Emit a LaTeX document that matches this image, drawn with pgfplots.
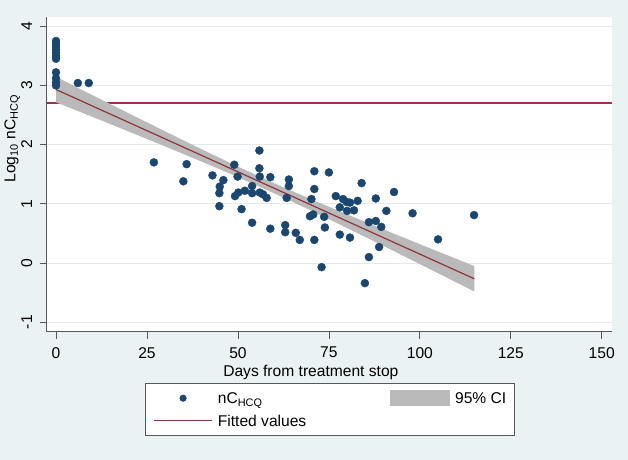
\documentclass[border=0pt]{standalone}
\usepackage{fontspec}
\setmainfont{Liberation Sans}
\usepackage{pgfplots}
\pgfplotsset{compat=1.18}

\definecolor{bgcol}{RGB}{234,242,243}
\definecolor{dotcol}{RGB}{26,71,111}
\definecolor{fitcol}{RGB}{144,53,59}
\definecolor{refcol}{RGB}{162,46,84}
\definecolor{cicol}{RGB}{186,186,186}
\definecolor{gridcol}{RGB}{226,234,238}

\newcommand{\fs}{\fontsize{15.6bp}{18.5bp}\selectfont}

\begin{document}
\begin{tikzpicture}
\fill[bgcol] (0bp,0bp) rectangle (628bp,460bp);
\useasboundingbox (0bp,0bp) rectangle (628bp,460bp);
\begin{axis}[
  at={(46.7bp,128.3bp)}, anchor=south west,
  scale only axis, width=565.6bp, height=314.4bp,
  xmin=-2.56, xmax=152.9, ymin=-1.16, ymax=4.15,
  axis x line*=bottom, axis y line*=left,
  axis line style={black!65, line width=0.7bp},
  axis background/.style={fill=white},
  xtick={0,25,...,150}, ytick={-1,0,...,4},
  tick align=outside, major tick length=7bp,
  tick style={black!65, line width=0.7bp},
  ymajorgrids, major grid style={gridcol, line width=0.8bp},
  ticklabel style={font=\fs},
  /pgf/number format/assume math mode=true,
  xticklabel shift=5bp,
  yticklabel shift=4bp,
  yticklabel style={rotate=90, anchor=south},
  xlabel={Days from treatment stop},
  xlabel style={at={(axis description cs:0.467,-0.129)}, anchor=center, font=\fs},
  ylabel={Log\textsubscript{10} nC\textsubscript{HCQ}},
  ylabel style={at={(axis description cs:-0.061,0.614)}, anchor=center, font=\fs},
  legend columns=2,
  legend cell align=left,
  legend style={at={(axis description cs:0.5004,-0.164)}, anchor=north,
    draw=black!65, fill=white, line width=0.7bp, font=\fs,
    inner xsep=8bp, inner ysep=5.5bp, row sep=4bp,
    nodes={inner xsep=0bp, inner ysep=1.85bp},
    /tikz/every odd column/.append style={column sep=4.8bp},
    /tikz/every even column/.append style={column sep=84bp}},
]
% reference line
\addplot[refcol, line width=1.4bp, forget plot] coordinates {(-2.56,2.70) (152.9,2.70)};

% observations
\addplot[only marks, mark=*, mark size=4bp, mark options={draw=dotcol, fill=dotcol},
  legend image code/.code={\path[draw=none, fill=none] (0bp,-3bp) rectangle (58.7bp,3bp);
    \fill[dotcol] (29.3bp,0bp) circle (3.2bp);}]
coordinates {
(0,3.75) (0,3.70) (0,3.65) (0,3.60) (0,3.55) (0,3.50) (0,3.45)
(0,3.22) (0,3.12) (0,3.05) (0,3.00)
(6,3.04) (9,3.04)
(26.9,1.70) (35.9,1.67) (35.0,1.38) (43.0,1.48) (46.0,1.40) (45.0,1.29)
(44.9,1.18) (44.9,0.96) (49.0,1.66) (49.9,1.46) (49.2,1.13) (50.1,1.19)
(51.9,1.22) (53.9,1.30) (53.9,1.18) (51.0,0.91) (53.9,0.68) (55.9,1.90)
(55.9,1.60) (56.0,1.46) (56.0,1.19) (56.9,1.16) (57.9,1.10) (58.9,1.45)
(58.9,0.58)
(63.0,0.64) (63.0,0.52) (63.4,1.10) (64.0,1.41) (64.0,1.30) (65.9,0.51)
(67.0,0.39) (69.8,0.79) (70.2,1.08) (70.7,0.82) (71.0,1.55) (71.0,1.25)
(71.0,0.39) (73.0,-0.07) (73.7,0.78) (73.9,0.60) (75.0,1.53) (76.9,1.13)
(78.0,0.94) (78.0,0.48) (78.9,1.08) (79.9,1.03) (80.0,0.88) (80.8,1.02)
(80.8,0.43) (81.9,0.89) (82.9,1.05) (84.0,1.35) (84.9,-0.34) (86.0,0.69)
(86.0,0.10) (87.9,1.09) (87.9,0.71) (88.8,0.27) (89.4,0.61) (90.8,0.88)
(92.9,1.20) (98.0,0.84) (105.0,0.40) (114.9,0.81)
};
\addlegendentry{\strut nC\textsubscript{HCQ}}

% 95% CI band: upper edge forward, lower edge back
\addplot[fill=cicol, draw=none,
  legend image code/.code={\fill[cicol] (0bp,-8.3bp) rectangle (60bp,8.3bp);}]
coordinates {
(0,3.145) (10,2.835) (20,2.528) (30,2.223) (40,1.922) (50,1.629) (60,1.347)
(70,1.079) (80,0.821) (90,0.568) (100,0.318) (115,-0.052)
(115,-0.482) (100,-0.018) (90,0.288) (80,0.591) (70,0.889) (60,1.177)
(50,1.451) (40,1.714) (30,1.969) (20,2.220) (10,2.469) (0,2.715)
} -- cycle;
\addlegendentry{\strut 95\% CI}

% fitted values
\addplot[fitcol, line width=1.2bp,
  legend image code/.code={\draw[fitcol, line width=1.2bp] (0bp,0bp) -- (58.7bp,0bp);}]
coordinates {(0,2.93) (115,-0.267)};
\addlegendentry{\strut Fitted values}
\end{axis}
\end{tikzpicture}
\end{document}
